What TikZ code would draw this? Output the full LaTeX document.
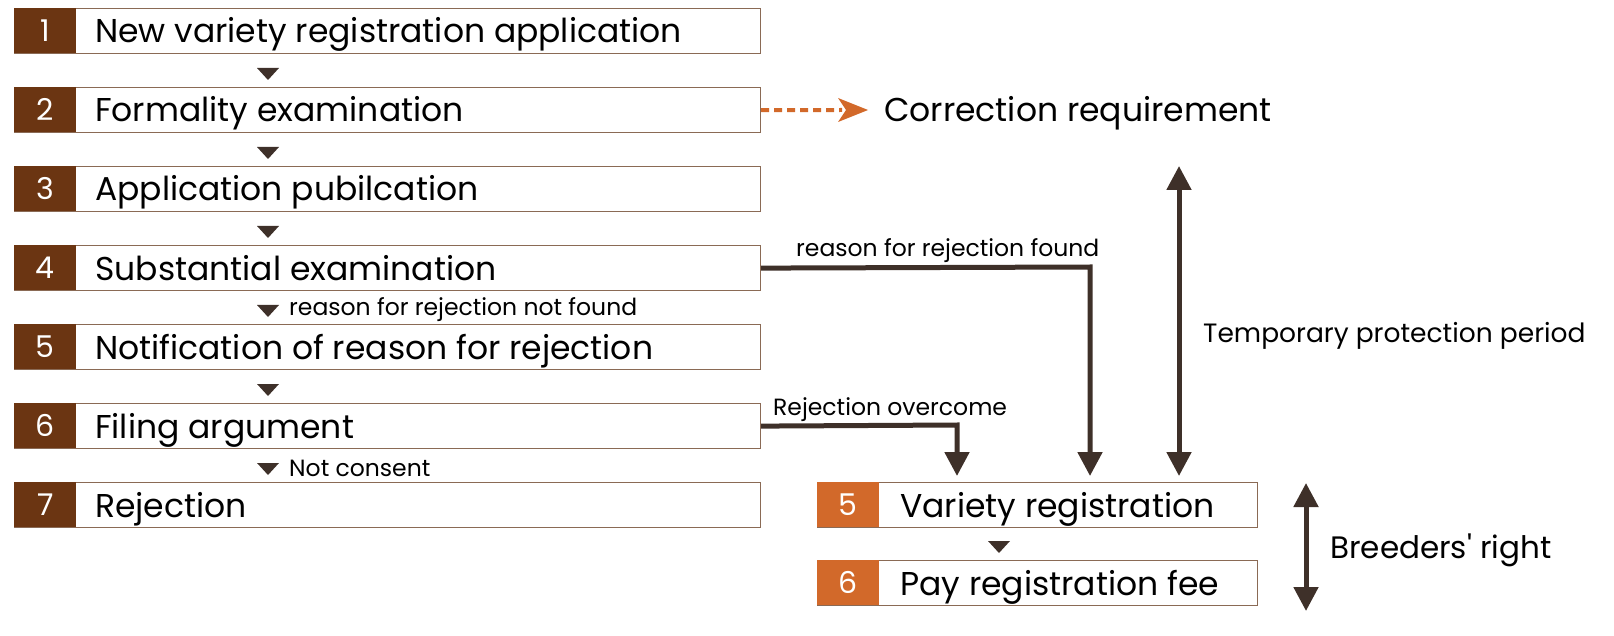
\documentclass[tikz,border=0pt]{standalone}
\usepackage{fontspec}
\setmainfont{Poppins}
\usetikzlibrary{arrows.meta}
\definecolor{dbrown}{HTML}{6B3512}
\definecolor{orng}{HTML}{D2692A}
\definecolor{lnc}{HTML}{3E3029}
\definecolor{bord}{HTML}{8A6A55}
\begin{document}
\begin{tikzpicture}[x=1pt,y=-1pt,
 box/.style={draw=bord,line width=1.2pt,minimum height=45pt,inner sep=0pt,anchor=north west},
 num/.style={fill=#1,text=white,minimum width=62pt,minimum height=45pt,inner sep=0pt,anchor=north west,font=\fontsize{30}{30}\selectfont},
 lbl/.style={anchor=base west,font=\fontsize{33}{33}\selectfont,inner sep=0pt},
 small/.style={font=\fontsize{23.5}{24}\selectfont,inner sep=0pt},
 conn/.style={draw=lnc,line width=5pt,-{Triangle[width=24pt,length=24pt]}},
 dbl/.style={draw=lnc,line width=5pt,{Triangle[width=24pt,length=24pt]}-{Triangle[width=24pt,length=24pt]}}]
\useasboundingbox (0,0) rectangle (1614,636);
\foreach \i/\t in {1/New variety registration application,2/Formality examination,3/Application pubilcation,4/Substantial examination,5/Notification of reason for rejection,6/Filing argument,7/Rejection}{
 \pgfmathsetmacro\yy{8+(\i-1)*79}
 \node[box,minimum width=746pt] (b\i) at (14,\yy) {};
 \node[num=dbrown] (n\i) at (14,\yy) {\i};
 \node[lbl] (t\i) at (95,\yy+35) {\t};
}
\foreach \i in {1,...,6}{
 \pgfmathsetmacro\yy{8+(\i-1)*79+60}
 \fill[lnc] (257,\yy) -- (279,\yy) -- (268,\yy+12) -- cycle;
}
\node[small,anchor=base west] (nf) at (289,316) {reason for rejection not found};
\node[small,anchor=base west] (nc) at (289,476) {Not consent};
% right boxes
\node[box,minimum width=440pt] (r5) at (817,482) {};
\node[num=orng] (rn5) at (817,482) {5};
\node[lbl] (rt5) at (900,517) {Variety registration};
\node[box,minimum width=440pt] (r6) at (817,560) {};
\node[num=orng] (rn6) at (817,560) {6};
\node[lbl] (rt6) at (900,595) {Pay registration fee};
\fill[lnc] (988,541) -- (1010,541) -- (999,553) -- cycle;
% correction
\node[lbl] (corr) at (884,122) {Correction requirement};
\draw[orng,line width=4pt,dash pattern=on 8pt off 5pt] (b2.east) -- (842,110);
\fill[orng] (838,98) -- (868,110) -- (838,122) -- (846,110) -- cycle;
% flows
\coordinate (c1) at (1090,267);
\draw[conn] (b4.east) -- (c1) -- (1090,476);
\node[small,anchor=base west] (rf) at (796,257) {reason for rejection found};
\coordinate (c2) at (957,425);
\draw[conn] (b6.east) -- (c2) -- (957,476);
\node[small,anchor=base west] (ro) at (773,415) {Rejection overcome};
\coordinate (tp1) at (1179,166);
\coordinate (tp2) at (1179,476);
\draw[dbl] (tp1) -- (tp2);
\node[lbl,font=\fontsize{26.5}{27}\selectfont] (tpl) at (1203,342) {Temporary protection period};
\coordinate (br1) at (1306,483);
\coordinate (br2) at (1306,611);
\draw[dbl] (br1) -- (br2);
\node[lbl,font=\fontsize{31}{31}\selectfont] (brl) at (1330,558) {Breeders\textquotesingle{} right};
\end{tikzpicture}
\end{document}
